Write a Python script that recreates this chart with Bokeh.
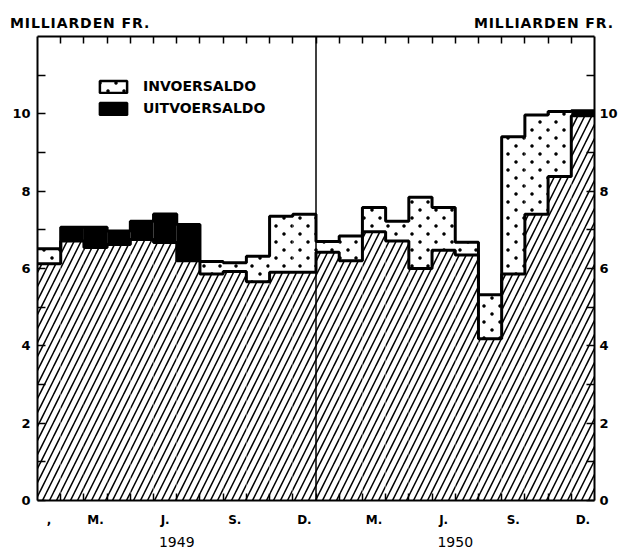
import base64
import struct
import zlib

from bokeh.plotting import figure
from bokeh.layouts import column
from bokeh.models import (LinearAxis, FixedTicker, ColumnDataSource, Span, Div,
                          Legend, LegendItem, ImageURLTexture)
from bokeh.core.properties import value
from bokeh.embed import file_html
from bokeh.resources import INLINE

# ---- data (milliard francs per month, Jan 1949 .. Dec 1950) ----
months = ["1949-01", "1949-02", "1949-03", "1949-04", "1949-05", "1949-06",
          "1949-07", "1949-08", "1949-09", "1949-10", "1949-11", "1949-12",
          "1950-01", "1950-02", "1950-03", "1950-04", "1950-05", "1950-06",
          "1950-07", "1950-08", "1950-09", "1950-10", "1950-11", "1950-12"]
invoer = [6.51, 6.71, 6.54, 6.62, 6.75, 6.67, 6.20, 6.18, 6.15, 6.32, 7.35, 7.40,
          6.70, 6.84, 7.58, 7.22, 7.84, 7.58, 6.68, 5.32, 9.41, 9.97, 10.06, 9.95]
uitvoer = [6.12, 7.07, 7.07, 6.97, 7.22, 7.41, 7.14, 5.86, 5.92, 5.66, 5.90, 5.90,
           6.42, 6.20, 6.95, 6.71, 6.00, 6.47, 6.35, 4.18, 5.86, 7.40, 8.38, 10.08]

month_label_index = [0, 2, 5, 8, 11, 14, 17, 20, 23]
month_labels = [",", "M.", "J.", "S.", "D.", "M.", "J.", "S.", "D."]
years = ["1949", "1950"]
y_major = [0, 2, 4, 6, 8, 10]
y_minor = [1, 3, 5, 7, 9, 11]
unit_title = "MILLIARDEN FR."
legend_labels = ["INVOERSALDO", "UITVOERSALDO"]

FONT = "DejaVu Sans"
n = len(months)
lefts = list(range(n))
rights = [i + 1 for i in lefts]
low = [min(a, b) for a, b in zip(invoer, uitvoer)]
high = [max(a, b) for a, b in zip(invoer, uitvoer)]


# ---- dot texture (small staggered dots) as a PNG data URL ----
def dot_png(size=16, radius=1.7):
    centres = [(size * 0.25, size * 0.25), (size * 0.75, size * 0.75)]
    rows = []
    for yy in range(size):
        row = bytearray(b"\x00")
        for xx in range(size):
            a = 0.0
            for cx, cy in centres:
                d = ((xx + 0.5 - cx) ** 2 + (yy + 0.5 - cy) ** 2) ** 0.5
                a = max(a, min(1.0, max(0.0, radius + 0.5 - d)))
            row += bytes([0, 0, 0, int(round(a * 255))])
        rows.append(bytes(row))
    raw = b"".join(rows)

    def chunk(t, d):
        c = struct.pack(">I", len(d)) + t + d
        return c + struct.pack(">I", zlib.crc32(t + d) & 0xFFFFFFFF)

    png = (b"\x89PNG\r\n\x1a\n"
           + chunk(b"IHDR", struct.pack(">IIBBBBB", size, size, 8, 6, 0, 0, 0))
           + chunk(b"IDAT", zlib.compress(raw))
           + chunk(b"IEND", b""))
    return "data:image/png;base64," + base64.b64encode(png).decode()


dots = ImageURLTexture(url=dot_png(), repetition="repeat")

HEADER_H = 30
p = figure(width=620, height=549 - HEADER_H, x_range=(0, n), y_range=(0, 12),
           output_backend="svg", toolbar_location=None,
           x_axis_location=None, y_axis_location=None,
           min_border_left=37, min_border_right=26, min_border_top=36 - HEADER_H,
           min_border_bottom=48)
p.grid.visible = False
p.outline_line_color = None
p.background_fill_color = "white"

# base (hatched) area
base = ColumnDataSource(dict(left=lefts, right=rights, top=low, bottom=[0] * n))
p.quad(left="left", right="right", top="top", bottom="bottom", source=base,
       fill_color="white", line_color=None,
       hatch_pattern="/", hatch_color="black", hatch_scale=14, hatch_weight=1.5)

imp_idx = [i for i in range(n) if invoer[i] >= uitvoer[i]]
exp_idx = [i for i in range(n) if uitvoer[i] > invoer[i]]
imp_src = ColumnDataSource(dict(left=[lefts[i] for i in imp_idx], right=[rights[i] for i in imp_idx],
                                top=[high[i] for i in imp_idx], bottom=[low[i] for i in imp_idx]))
exp_src = ColumnDataSource(dict(left=[lefts[i] for i in exp_idx], right=[rights[i] for i in exp_idx],
                                top=[high[i] for i in exp_idx], bottom=[low[i] for i in exp_idx]))
p.quad(left="left", right="right", top="top", bottom="bottom", source=imp_src,
       fill_color="white", line_color=None,
       hatch_pattern=value("dots"), hatch_extra={"dots": dots})
p.quad(left="left", right="right", top="top", bottom="bottom", source=exp_src,
       fill_color="black", line_color=None)

# outlines (step lines)
edges = lefts + [n]
p.step(x=edges, y=high + [high[-1]], mode="after", line_color="black", line_width=3)
p.step(x=edges, y=low + [low[-1]], mode="after", line_color="black", line_width=3)

# hidden renderers used only for the bordered legend swatches
leg_in = p.quad(left="left", right="right", top="top", bottom="bottom", source=imp_src,
                fill_color="white", line_color="black", line_width=2.5,
                hatch_pattern=value("dots"), hatch_extra={"dots": dots}, visible=False)
leg_out = p.quad(left="left", right="right", top="top", bottom="bottom", source=exp_src,
                 fill_color="black", line_color="black", line_width=2.5, visible=False)

legend = Legend(items=[LegendItem(label=legend_labels[0], renderers=[leg_in]),
                       LegendItem(label=legend_labels[1], renderers=[leg_out])],
                location=(59, 384), padding=0, margin=0, spacing=6,
                glyph_width=34, glyph_height=15, label_height=15, label_standoff=13,
                label_text_font=FONT, label_text_font_style="bold", label_text_font_size="14px",
                label_text_color="black", inactive_fill_alpha=0,
                border_line_color=None, background_fill_alpha=0)
p.add_layout(legend, "center")

# divider between years
p.add_layout(Span(location=12, dimension="height", line_color="black", line_width=1.5))


def style_axis(ax):
    ax.axis_line_width = 2
    ax.axis_line_color = "black"
    ax.major_tick_line_width = 1.5
    ax.minor_tick_line_width = 1.5
    ax.major_label_text_font = FONT
    ax.major_label_text_font_style = "bold"
    ax.major_label_text_font_size = "13px"
    ax.major_label_text_color = "black"


# left / right axes
for side, standoff in (("left", 7), ("right", 5)):
    ax = LinearAxis(ticker=FixedTicker(ticks=y_major, minor_ticks=y_minor))
    style_axis(ax)
    ax.major_tick_in = 8
    ax.major_tick_out = 0
    ax.minor_tick_in = 8
    ax.minor_tick_out = 0
    ax.major_label_standoff = standoff
    p.add_layout(ax, side)

# top axis: month boundary ticks only (minor ticks, no labels)
top_ax = LinearAxis(ticker=FixedTicker(ticks=[], minor_ticks=list(range(1, n))))
style_axis(top_ax)
top_ax.minor_tick_in = 7
top_ax.minor_tick_out = 0
top_ax.major_label_standoff = 0
p.add_layout(top_ax, "above")

# bottom axis: month labels at centres, ticks at boundaries
label_pos = [i + 0.5 for i in month_label_index]
bot_ax = LinearAxis(ticker=FixedTicker(ticks=label_pos, minor_ticks=list(range(1, n))))
style_axis(bot_ax)
bot_ax.major_tick_in = 0
bot_ax.major_tick_out = 0
bot_ax.minor_tick_in = 7
bot_ax.minor_tick_out = 0
bot_ax.major_label_text_font_size = "12px"
bot_ax.major_label_standoff = 12
bot_ax.major_label_overrides = {pos: lab for pos, lab in zip(label_pos, month_labels)}
p.add_layout(bot_ax, "below")

year_pos = [k * 12 + 6 for k in range(len(years))]
yr_ax = LinearAxis(ticker=FixedTicker(ticks=year_pos))
style_axis(yr_ax)
yr_ax.axis_line_color = None
yr_ax.major_tick_line_color = None
yr_ax.minor_tick_line_color = None
yr_ax.major_label_standoff = 1
yr_ax.major_label_text_font_size = "14px"
yr_ax.major_label_text_font_style = "normal"
yr_ax.major_label_overrides = {pos: lab for pos, lab in zip(year_pos, years)}
p.add_layout(yr_ax, "below")

# unit titles, left and right, above the frame
span_style = f"font-family:'{FONT}';font-weight:bold;font-size:14px;color:black;letter-spacing:0.9px;"
header = Div(
    text=(f"<div style=\"display:flex;justify-content:space-between;width:620px;"
          f"padding:13px 6px 0 10px;box-sizing:border-box;\">"
          f"<span style=\"{span_style}\">{unit_title}</span>"
          f"<span style=\"{span_style}\">{unit_title}</span></div>"),
    width=620, height=HEADER_H, margin=(0, 0, 0, 0))

layout = column(header, p, spacing=0)

open("out.html", "w").write(file_html(layout, INLINE))
